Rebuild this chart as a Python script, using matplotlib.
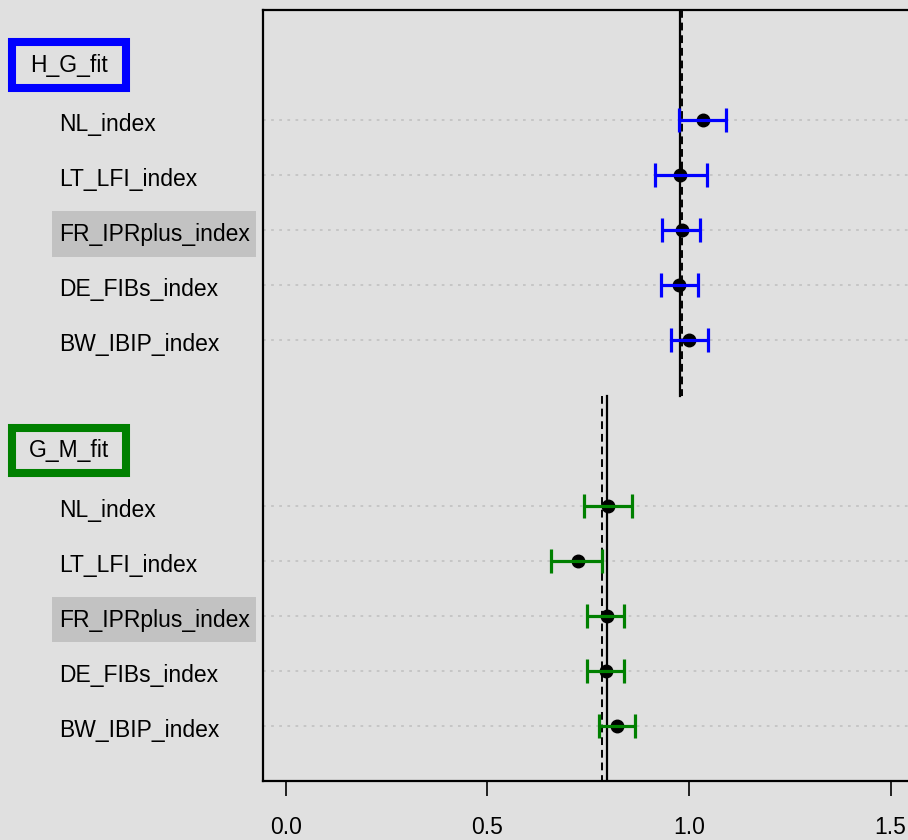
import matplotlib.pyplot as plt
import matplotlib.transforms as mtransforms
from matplotlib.patches import Rectangle

plt.rcParams['font.family'] = ['Liberation Sans', 'DejaVu Sans']

groups = ['H_G_fit', 'G_M_fit']
group_colors = ['#0000ff', '#008000']
labels = ['NL_index', 'LT_LFI_index', 'FR_IPRplus_index', 'DE_FIBs_index', 'BW_IBIP_index']
highlight = 'FR_IPRplus_index'

hg_est = [1.034, 0.978, 0.983, 0.975, 1.001]
hg_lo = [0.974, 0.915, 0.934, 0.931, 0.955]
hg_hi = [1.091, 1.044, 1.028, 1.022, 1.048]
gm_est = [0.800, 0.724, 0.797, 0.793, 0.822]
gm_lo = [0.740, 0.657, 0.748, 0.748, 0.777]
gm_hi = [0.858, 0.785, 0.839, 0.839, 0.865]

# reference lines per group: solid, dashed
ref_solid = [0.978, 0.796]
ref_dashed = [0.983, 0.784]

xticks = [0.0, 0.5, 1.0, 1.5]

bg = '#e0e0e0'
fig = plt.figure(figsize=(9.08, 8.40), dpi=100, facecolor=bg)
W, H = 908, 840
ax = fig.add_axes([262.5 / W, 59 / H, (935 - 262.5) / W, (781 - 10) / H])
ax.set_facecolor(bg)
ax.set_xlim(-0.058, 1.610)
ax.set_ylim(13, -1)

trans = mtransforms.blended_transform_factory(fig.transFigure, ax.transData)

series = [(hg_est, hg_lo, hg_hi), (gm_est, gm_lo, gm_hi)]
for g, (name, col, (est, lo, hi)) in enumerate(zip(groups, group_colors, series)):
    base = g * 7
    ys = [base + 1 + i for i in range(len(labels))]
    for y in ys:
        ax.axhline(y, color='#c4c4c4', ls=(0, (1.5, 3)), lw=1.3, zorder=1)
    ax.plot([ref_solid[g]] * 2, [base - 1, base + 6], color='black', lw=1.6, zorder=2)
    ax.plot([ref_dashed[g]] * 2, [base - 1, base + 6], color='black', lw=1.4,
            ls=(0, (4, 2.5)), zorder=2)
    ax.plot(est, ys, 'o', color='black', ms=9, zorder=3)
    xerr = [[e - l for e, l in zip(est, lo)], [h - e for e, h in zip(est, hi)]]
    ax.errorbar(est, ys, xerr=xerr, fmt='none', ecolor=col, elinewidth=2.3,
                capsize=8.5, capthick=2.3, zorder=4)

    # group header box
    fig.add_artist(Rectangle((12 / W, base - 0.41), 114 / W, 0.82, transform=trans,
                             facecolor=bg, edgecolor=col, lw=5.8, clip_on=False))
    fig.text(69 / W, base, name, transform=trans, ha='center', va='center',
             fontsize=16.5)
    for y, lab in zip(ys, labels):
        if lab == highlight:
            fig.add_artist(Rectangle((52 / W, y - 0.35), 204 / W, 0.83, transform=trans,
                                     facecolor='#c2c2c2', edgecolor='none', clip_on=False))
        fig.text(59 / W, y + 0.08, lab, transform=trans, ha='left', va='center',
                 fontsize=16.5)

ax.set_xticks(xticks)
ax.set_xticklabels(['%.1f' % t for t in xticks])
ax.set_yticks([])
ax.tick_params(axis='x', length=11, width=1.2, pad=14, labelsize=16.5)
for s in ['left', 'top', 'bottom']:
    ax.spines[s].set_linewidth(1.6)
ax.spines['right'].set_visible(False)

fig.savefig('out.png', dpi=100, facecolor=bg)
